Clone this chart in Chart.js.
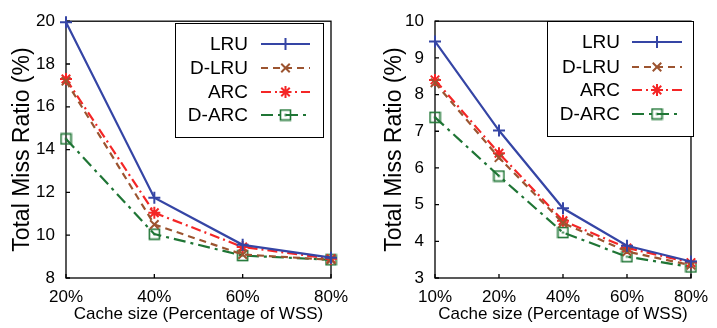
<!DOCTYPE html>
<html>
<head>
<meta charset="utf-8">
<script src="https://cdn.jsdelivr.net/npm/chart.js@4"></script>
<style>
  body { margin: 0; background: #fff; }
  #wrap { position: relative; width: 717px; height: 328px; }
  canvas { position: absolute; top: 0; }
</style>
</head>
<body>
<div id="wrap">
  <canvas id="left" width="358" height="328" style="left:0"></canvas>
  <canvas id="right" width="359" height="328" style="left:358px"></canvas>
</div>
<script>
// left panel
var sizesA = ['20%', '40%', '60%', '80%'];
var lruA   = [19.95, 11.75, 9.55, 8.95];
var dlruA  = [17.2, 10.5, 9.1, 8.85];
var arcA   = [17.3, 11.05, 9.45, 8.9];
var darcA  = [14.5, 10.05, 9.05, 8.85];

// right panel
var sizesB = ['10%', '20%', '40%', '60%', '80%'];
var lruB   = [9.45, 7.02, 4.9, 3.88, 3.45];
var dlruB  = [8.32, 6.28, 4.5, 3.72, 3.35];
var arcB   = [8.4, 6.4, 4.56, 3.82, 3.42];
var darcB  = [7.38, 5.78, 4.24, 3.58, 3.3];

var FONT = '"Liberation Sans", Arial, sans-serif';

function squareDot(color) {
  var c = document.createElement('canvas');
  c.width = 13; c.height = 13;
  var g = c.getContext('2d');
  g.strokeStyle = color; g.lineWidth = 1.6;
  g.strokeRect(1.5, 1.5, 10, 10);
  g.fillStyle = color;
  g.fillRect(5.5, 5.5, 2, 2);
  return c;
}

function series(lru, dlru, arc, darc) {
  return [
    { label: 'LRU', data: lru, borderColor: '#3545a5', borderWidth: 2.2, borderDash: [],
      pointStyle: 'cross', pointRadius: 6, pointBorderWidth: 2, pointBorderColor: '#3545a5', pointBackgroundColor: '#3545a5' },
    { label: 'D-LRU', data: dlru, borderColor: '#9c5430', borderWidth: 2.2, borderDash: [7, 5],
      pointStyle: 'crossRot', pointRadius: 6, pointBorderWidth: 2, pointBorderColor: '#9c5430', pointBackgroundColor: '#9c5430' },
    { label: 'ARC', data: arc, borderColor: '#f42626', borderWidth: 2.2, borderDash: [10, 4, 2, 4],
      pointStyle: 'star', pointRadius: 6, pointBorderWidth: 2, pointBorderColor: '#f42626', pointBackgroundColor: '#f42626' },
    { label: 'D-ARC', data: darc, borderColor: '#1f7535', borderWidth: 2.2, borderDash: [12, 5, 3, 5],
      pointStyle: squareDot('#1f7535'), pointRadius: 6, pointBorderWidth: 1.6, pointBorderColor: '#1f7535', pointBackgroundColor: '#1f7535' }
  ];
}

var frame = {
  id: 'frame',
  beforeDatasetsDraw: function(chart) {
    var ctx = chart.ctx, a = chart.chartArea, sx = chart.scales.x, sy = chart.scales.y;
    ctx.save();
    ctx.strokeStyle = '#000';
    ctx.lineWidth = 1.3;
    ctx.strokeRect(a.left, a.top, a.right - a.left, a.bottom - a.top);
    ctx.beginPath();
    sy.ticks.forEach(function(t, i) {
      var p = sy.getPixelForTick(i);
      ctx.moveTo(a.left, p); ctx.lineTo(a.left + 4, p);
    });
    sx.ticks.forEach(function(t, i) {
      var p = sx.getPixelForTick(i);
      ctx.moveTo(p, a.bottom); ctx.lineTo(p, a.bottom - 4);
    });
    ctx.stroke();
    ctx.restore();
  }
};

var legendBox = {
  id: 'legendBox',
  afterDraw: function(chart, args, o) {
    var ctx = chart.ctx;
    ctx.save();
    ctx.fillStyle = '#fff';
    ctx.fillRect(o.x, o.y, o.w, o.h);
    ctx.strokeStyle = '#000';
    ctx.lineWidth = 1;
    ctx.strokeRect(o.x + 0.5, o.y + 0.5, o.w, o.h);
    ctx.font = '19px ' + FONT;
    ctx.textAlign = 'right';
    ctx.textBaseline = 'middle';
    chart.data.datasets.forEach(function(ds, i) {
      var y = o.rows[i];
      ctx.fillStyle = '#000';
      ctx.fillText(ds.label, o.textX, y + 1);
      ctx.strokeStyle = ds.borderColor;
      ctx.lineWidth = ds.borderWidth;
      ctx.setLineDash(ds.borderDash);
      ctx.beginPath();
      ctx.moveTo(o.x1, y); ctx.lineTo(o.x2, y);
      ctx.stroke();
      ctx.setLineDash([]);
      ctx.strokeStyle = ds.pointBorderColor;
      ctx.fillStyle = ds.pointBackgroundColor;
      ctx.lineWidth = ds.pointBorderWidth;
      Chart.helpers.drawPoint(ctx, { pointStyle: ds.pointStyle, radius: ds.pointRadius, rotation: 0, borderWidth: ds.pointBorderWidth }, (o.x1 + o.x2) / 2, y);
    });
    ctx.restore();
  }
};

function makeChart(id, labels, sets, yMin, yMax, step, yWidth, titlePad, padRight, legend) {
  return new Chart(document.getElementById(id), {
    type: 'line',
    data: { labels: labels, datasets: sets },
    options: {
      responsive: false,
      animation: false,
      layout: { padding: { top: 14, right: padRight, bottom: 0, left: 0 } },
      datasets: { line: { clip: false, tension: 0, fill: false } },
      scales: {
        x: {
          type: 'category', offset: false,
          grid: { display: false, drawTicks: false },
          border: { display: false },
          ticks: { color: '#000', font: { family: FONT, size: 17 }, padding: 9, autoSkip: false, maxRotation: 0 },
          title: { display: true, text: 'Cache size (Percentage of WSS)', color: '#000',
                   font: { family: FONT, size: 17 }, padding: { top: 0, bottom: 3 } },
          afterFit: function(s) { s.height = 50; }
        },
        y: {
          min: yMin, max: yMax,
          grid: { display: false, drawTicks: false },
          border: { display: false },
          ticks: { stepSize: step, color: '#000', font: { family: FONT, size: 17 }, padding: 11 },
          title: { display: true, text: 'Total Miss Ratio (%)', color: '#000',
                   font: { family: FONT, size: 23 }, padding: { top: titlePad, bottom: 0 } },
          afterFit: function(s) { s.width = yWidth; }
        }
      },
      plugins: {
        legend: { display: false },
        tooltip: { enabled: false },
        legendBox: legend
      }
    },
    plugins: [frame, legendBox]
  });
}

makeChart('left', sizesA, series(lruA, dlruA, arcA, darcA), 8, 20, 2, 66, 9, 27,
  { x: 175, y: 23, w: 148, h: 114, textX: 248, x1: 261, x2: 310, rows: [44, 68, 92, 115] });
makeChart('right', sizesB, series(lruB, dlruB, arcB, darcB), 3, 10, 1, 77, 23, 16,
  { x: 189, y: 21, w: 146, h: 115, textX: 262, x1: 274, x2: 324, rows: [42, 67, 90, 114] });
</script>
</body>
</html>
